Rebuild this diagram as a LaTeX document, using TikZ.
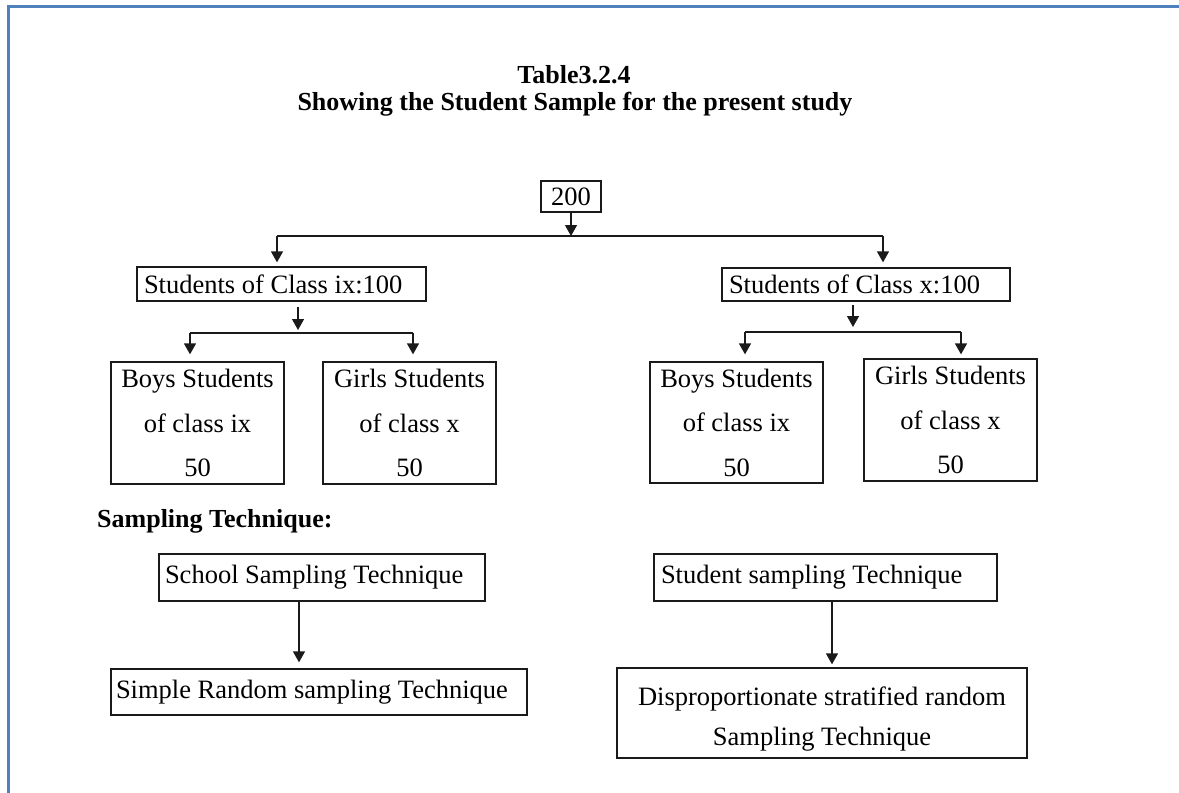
\documentclass[tikz,border=0pt]{standalone}
\usepackage{fontspec}
\setmainfont{Liberation Serif}
\usetikzlibrary{arrows.meta}
\definecolor{frameblue}{HTML}{4F81BD}
\definecolor{linegray}{HTML}{1A1A1A}
\tikzset{
  box/.style={draw=linegray, line width=1.3pt, inner sep=0pt, align=center,
    font=\fontsize{26.5}{44.5}\selectfont},
  lbox/.style={box, align=flush left},
  ttl/.style={inner sep=0pt, font=\fontsize{26}{30}\selectfont\bfseries},
  conn/.style={draw=linegray, line width=1.3pt},
  arr/.style={conn, -{Triangle[width=12pt,length=11pt]}},
}
\begin{document}
\begin{tikzpicture}[x=1pt,y=-1pt]
\useasboundingbox (0,0) rectangle (1179,793);
\draw[frameblue, line width=2.5pt] (8.5,793) -- (8.5,6.5) -- (1179,6.5);

\node[ttl] (title) at (574,75) {Table3.2.4};
\node[ttl] (subtitle) at (575,104) {Showing the Student Sample for the present study};

\node[box, minimum width=60pt, minimum height=31pt] (n200) at (571,196.5) {200};
\node[lbox, minimum width=289pt, minimum height=34pt, text width=275pt] (cix) at (281.5,284) {Students of Class ix:100};
\node[lbox, minimum width=288pt, minimum height=33pt, text width=274pt] (cx) at (866,284.5) {Students of Class x:100};

\node[box, minimum width=173pt, minimum height=122pt] (b1) at (197.5,423) {Boys Students\\of class ix\\50};
\node[box, minimum width=173pt, minimum height=122pt] (g1) at (409.5,423) {Girls Students\\of class x\\50};
\node[box, minimum width=173pt, minimum height=121pt] (b2) at (736.5,422.5) {Boys Students\\of class ix\\50};
\node[box, minimum width=173pt, minimum height=122pt] (g2) at (950.5,420) {Girls Students\\of class x\\50};

\node[ttl, anchor=west] (samp) at (97,521) {Sampling Technique:};

\node[lbox, minimum width=326pt, minimum height=47pt, text width=314pt] (school) at (322,577.5) {School Sampling Technique};
\node[lbox, minimum width=343pt, minimum height=47pt, text width=329pt] (student) at (825.5,577.5) {Student sampling Technique};
\node[lbox, minimum width=416pt, minimum height=46pt, text width=406pt] (simple) at (319,692) {Simple Random sampling Technique};
\node[box, minimum width=410pt, minimum height=90pt, font=\fontsize{26.5}{40}\selectfont] (dispro) at (822,713) {\rule{0pt}{31pt}Disproportionate stratified random\\Sampling Technique};

% top level
\coordinate (hl) at (277,236);
\coordinate (hm) at (571,236);
\coordinate (hr) at (883,236);
\draw[arr] (n200.south) -- (hm);
\draw[conn] (hl) -- (hr);
\draw[arr, shorten >=4pt] (hl) -- (hl |- cix.north);
\draw[arr, shorten >=5pt] (hr) -- (hr |- cx.north);

% class ix
\coordinate (la) at (298,307);
\coordinate (lb) at (298,330);
\coordinate (ll) at (190,333);
\coordinate (lr) at (413,333);
\draw[arr] (la) -- (lb);
\draw[conn] (ll) -- (lr);
\draw[arr, shorten >=7pt] (ll) -- (ll |- b1.north);
\draw[arr, shorten >=7pt] (lr) -- (lr |- g1.north);

% class x
\coordinate (ra) at (853,305);
\coordinate (rb) at (853,327);
\coordinate (rl) at (745,332);
\coordinate (rr) at (961,332);
\draw[arr] (ra) -- (rb);
\draw[conn] (rl) -- (rr);
\draw[arr, shorten >=7pt] (rl) -- (rl |- b2.north);
\draw[arr, shorten >=4pt] (rr) -- (rr |- g2.north);

% sampling
\coordinate (sa) at (299,601);
\draw[arr, shorten >=6pt] (sa) -- (sa |- simple.north);
\coordinate (ta) at (832,601);
\draw[arr, shorten >=3pt] (ta) -- (ta |- dispro.north);
\end{tikzpicture}
\end{document}
